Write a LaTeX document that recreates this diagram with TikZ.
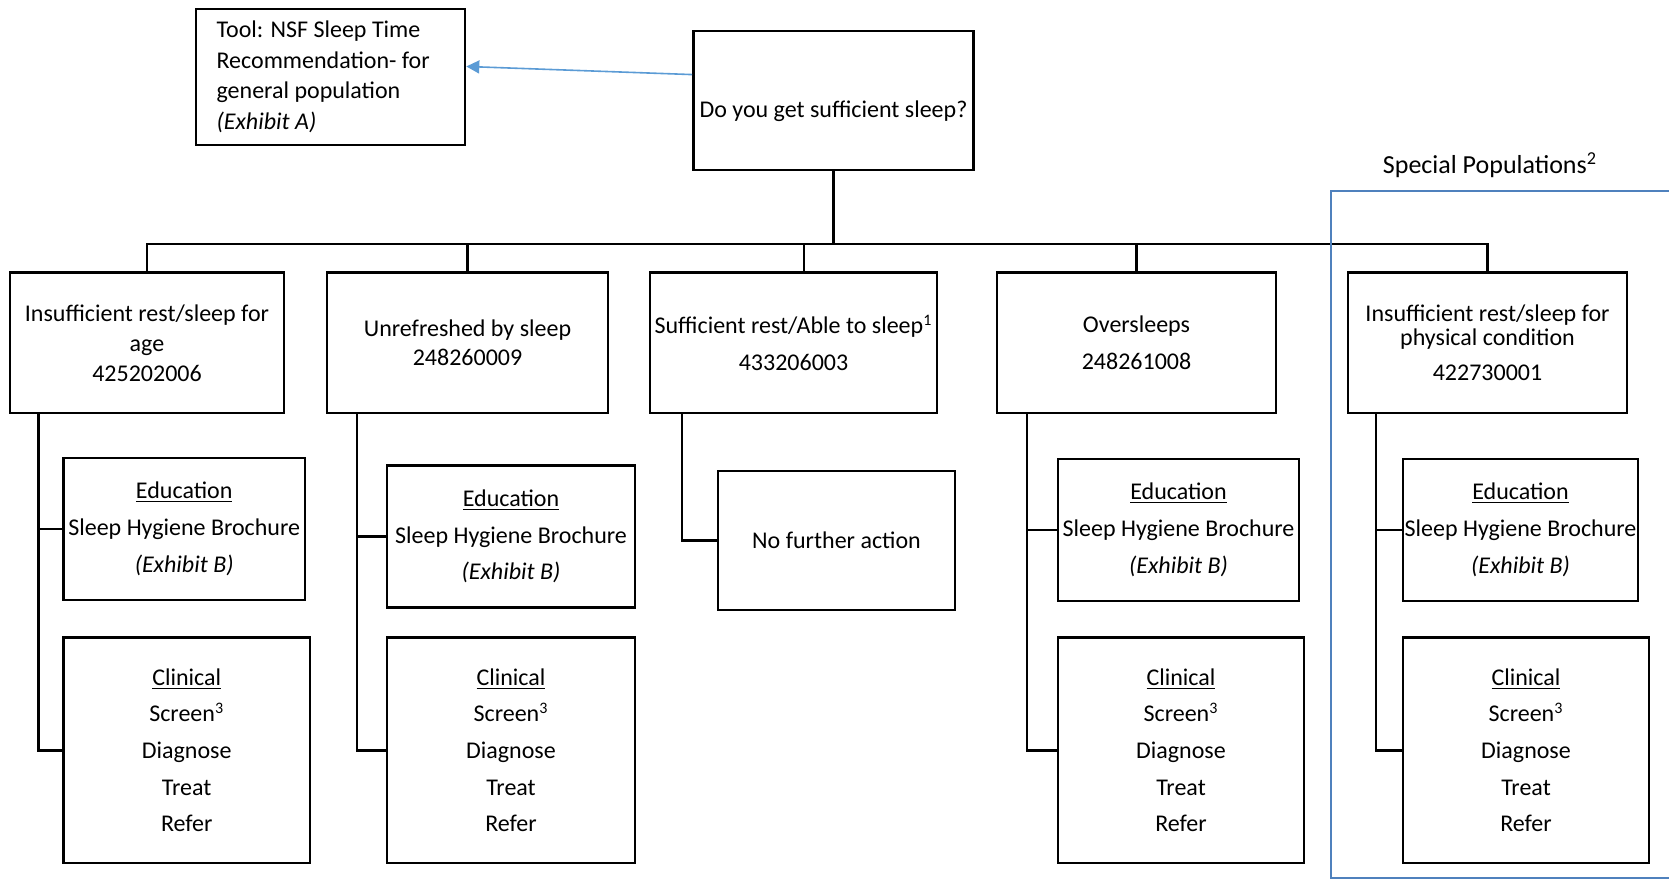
\documentclass[tikz,border=0pt]{standalone}
\usepackage{fontspec}
\setmainfont{Carlito}
\usetikzlibrary{arrows.meta,calc}
\definecolor{arrowblue}{RGB}{91,155,213}
\definecolor{specialblue}{RGB}{79,129,189}
\tikzset{
  box/.style={rectangle,draw=black,line width=1.3pt,fill=white,inner sep=2pt,
              align=center,font=\fontsize{12}{14.5}\selectfont},
  toolbox/.style={box,align=flush left,inner xsep=10.3pt,text width=113.9pt,
              minimum width=134.5pt,minimum height=68pt,
              font=\fontsize{12}{15.3}\selectfont},
  askbox/.style={box,minimum width=140pt,minimum height=69.5pt,text height=18.6pt},
  outcome/.style={box,minimum height=70.15pt},
  wide/.style={font=\fontsize{12}{18.3}\selectfont},
  edu/.style={box,inner xsep=0pt,minimum height=71pt,font=\fontsize{12}{18.4}\selectfont},
  clin/.style={box,minimum height=112.7pt,font=\fontsize{12}{18.3}\selectfont},
  link/.style={draw=black,line width=1.3pt},
  pointer/.style={-{Triangle[length=6.5pt,width=6.5pt]},draw=arrowblue,line width=0.8pt},
  special/.style={draw=specialblue,line width=1pt},
}
\newcommand{\edutext}{\underline{Education}\\Sleep Hygiene Brochure\\\textit{(Exhibit B)}}
\newcommand{\clintext}{\underline{Clinical}\\Screen\textsuperscript{3}\\Diagnose\\Treat\\Refer}

\begin{document}
\begin{tikzpicture}[x=0.5pt,y=-0.5pt]
  \useasboundingbox (0,0) rectangle (1669,882);
  % top question and the tool it points to
  \node[askbox] (ask) at (833.5,100.5) {Do you get sufficient sleep?};
  \node[toolbox] (tool) at (330.5,77)
    {Tool: NSF Sleep Time\\Recommendation- for\\general population\\\textit{(Exhibit A)}};
  \draw[pointer] ($(ask.north west)!0.317!(ask.south west)$) --
    ($(tool.north east)!0.424!(tool.south east)$);

  % answers
  \node[outcome,minimum width=137pt,font=\fontsize{12}{15}\selectfont] (b1) at (147,342.85)
    {Insufficient rest/sleep for\\age\\425202006};
  \node[outcome,minimum width=140.5pt] (b2) at (467.5,342.85)
    {Unrefreshed by sleep\\248260009};
  \node[outcome,wide,minimum width=143.5pt] (b3) at (793.5,342.85)
    {Sufficient rest/Able to sleep\textsuperscript{1}\\433206003};
  \node[outcome,wide,minimum width=139.5pt] (b4) at (1136.5,342.85)
    {Oversleeps\\248261008};
  \node[outcome,minimum width=139.5pt] (b5) at (1487.5,342.85)
    {Insufficient rest/sleep for\\[-2.8pt]physical condition\\[3pt]422730001};

  \coordinate (bus) at (833.5,244);
  \coordinate (b3top) at (804,272.7);
  \draw[link] (ask.south) -- (bus);
  \foreach \n in {b1,b2,b4,b5}
    \draw[link] (\n.north) |- (bus);
  \draw[link] (b3top) |- (bus);

  % follow-up boxes
  \node[edu,minimum width=120.9pt] (e1) at (184.2,529) {\edutext};
  \node[edu,minimum width=124pt] (e2) at (511,536.5) {\edutext};
  \node[edu,minimum width=120.5pt] (e4) at (1178.5,530) {\edutext};
  \node[edu,minimum width=117.5pt] (e5) at (1520.5,530) {\edutext};
  \node[clin,minimum width=123.3pt] (c1) at (186.7,750.3) {\clintext};
  \node[clin,minimum width=124pt] (c2) at (511,750.3) {\clintext};
  \node[clin,minimum width=123pt] (c4) at (1181,750.3) {\clintext};
  \node[clin,minimum width=123pt] (c5) at (1526,750.3) {\clintext};
  \node[box,minimum width=118.5pt,minimum height=69.5pt] (n3) at (836.5,540.5)
    {No further action};

  \coordinate (t1) at (38.3,413);
  \coordinate (t2) at (357,413);
  \coordinate (t3) at (682,413);
  \coordinate (t4) at (1027,413);
  \coordinate (t5) at (1376,413);
  \foreach \i in {1,2,4,5}{
    \draw[link] (t\i) |- (e\i.west);
    \draw[link] (t\i) |- (c\i.west);}
  \draw[link] (t3) |- (n3.west);

  % special populations frame
  \coordinate (sp1) at (1669,190.7);
  \coordinate (sp2) at (1330.7,190.7);
  \coordinate (sp3) at (1330.7,878.3);
  \coordinate (sp4) at (1669,878.3);
  \draw[special] (sp1) -- (sp2) -- (sp3) -- (sp4);
  \node[anchor=base,font=\fontsize{13}{15}\selectfont] (splabel) at (1490,173.3)
    {Special Populations\textsuperscript{2}};
\end{tikzpicture}
\end{document}
